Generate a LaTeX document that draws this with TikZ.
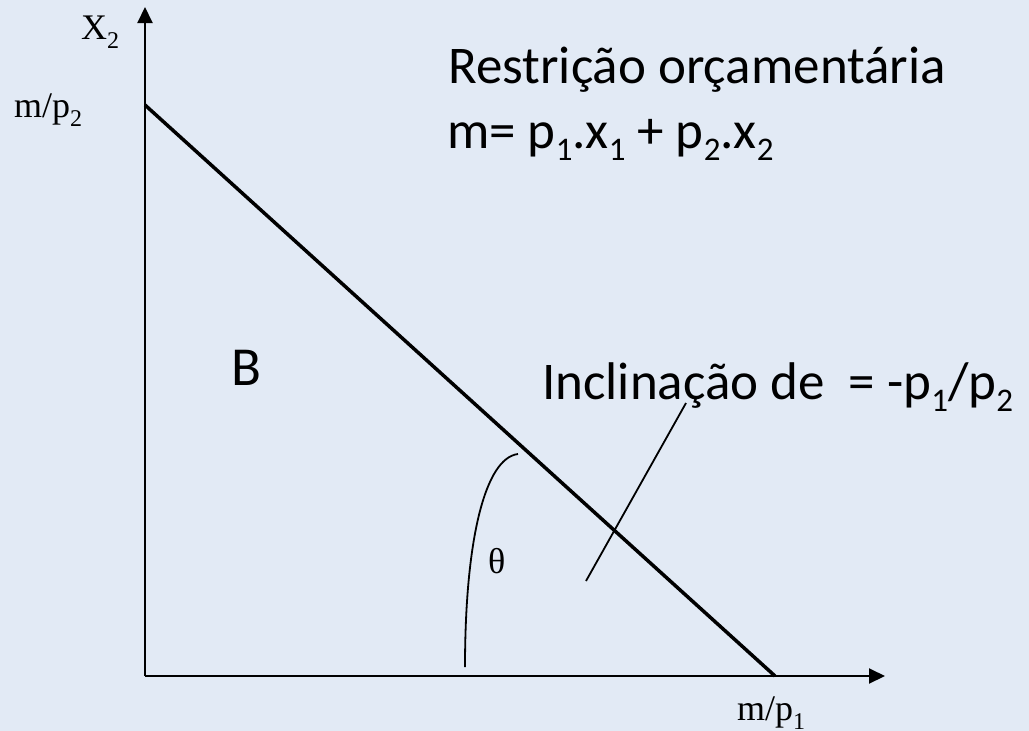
\documentclass[tikz,border=0pt]{standalone}
\usepackage{fontspec}
\setmainfont{Carlito}
\newfontfamily\timesf{Liberation Serif}
\usetikzlibrary{arrows.meta}
\definecolor{bgblue}{RGB}{226,234,245}
\newcommand{\calsub}[3]{\raisebox{-#2}{\fontsize{#3}{#3}\selectfont #1}}
\newcommand{\tsub}[1]{\raisebox{-9pt}{\fontsize{24}{24}\selectfont #1}}
\tikzset{
  axisline/.style={line width=2pt,-{Triangle[length=16pt,width=15pt]}},
  budget/.style={line width=3.5pt},
  thin/.style={line width=1.8pt},
  serlbl/.style={anchor=base west,inner sep=0pt,font=\timesf\fontsize{36}{36}\selectfont},
  callbl/.style={anchor=base west,inner sep=0pt,font=\fontsize{53}{53}\selectfont},
}
\begin{document}
\begin{tikzpicture}[x=1pt,y=-1pt]
\fill[bgblue] (0,0) rectangle (1029,731);
\useasboundingbox (0,0) rectangle (1029,731);
\coordinate (O) at (145,676);
\coordinate (Ytip) at (145,7);
\coordinate (Xtip) at (885,676);
\coordinate (Ytop) at (145,105);
\coordinate (Xend) at (775,676);
\coordinate (th0) at (465,667);
\coordinate (th1) at (518,454);
\coordinate (pt0) at (586,581);
\coordinate (pt1) at (686,403);
\draw[axisline] (O) -- (Ytip);
\draw[axisline] (O) -- (Xtip);
\draw[budget] (Ytop) -- (Xend);
\draw[thin] (th0) .. controls (465,540) and (485,458) .. (th1);
\draw[thin] (pt0) -- (pt1);
\node[serlbl] (x2) at (81,39) {X\tsub{2}};
\node[serlbl] (mp2) at (14,117) {m/p\tsub{2}};
\node[serlbl] (mp1) at (737,720) {m/p\tsub{1}};
\node[serlbl] (theta) at (488,573) {θ};
\node[callbl] (restr) at (448,83) {Restrição orçamentária};
\node[callbl] (eq) at (447,148) {m= p\calsub{1}{12pt}{33}.x\calsub{1}{12pt}{33} + p\calsub{2}{12pt}{33}.x\calsub{2}{12pt}{33}};
\node[callbl,font=\fontsize{55}{55}\selectfont] (B) at (231,385) {B};
\node[callbl] (incl) at (542,399) {Inclinação de~~= -p\calsub{1}{12pt}{33}/p\calsub{2}{12pt}{33}};
\end{tikzpicture}
\end{document}
